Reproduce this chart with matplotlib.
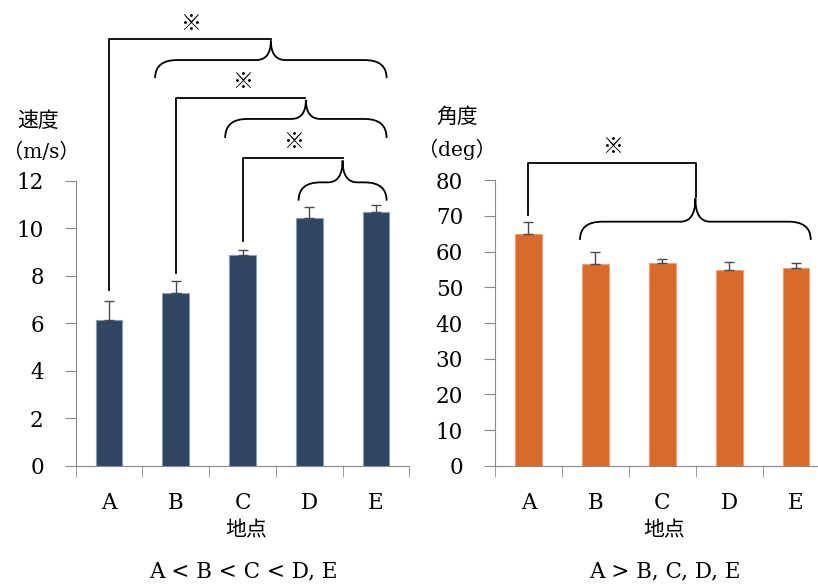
import matplotlib.pyplot as plt
from matplotlib.path import Path
from matplotlib.patches import PathPatch

plt.rcParams['font.family'] = ['DejaVu Serif', 'Noto Sans CJK JP']

sites = ['A', 'B', 'C', 'D', 'E']
speed = [6.15, 7.28, 8.86, 10.42, 10.67]
speed_err = [0.80, 0.50, 0.22, 0.46, 0.30]
angle = [65.0, 56.6, 56.8, 54.9, 55.3]
angle_err = [3.4, 3.3, 1.0, 2.1, 1.4]

# significance brackets: (from, to_x, y_bottom, y_top, brace_x0, brace_x1, brace_y, end_y, tip_y, star_x, star_y)
speed_sig = [
    (0, 2.42, 7.4, 17.95, 0.69, 4.16, 17.08, 16.32, 17.90, 1.22, 18.6),
    (1, 2.93, 8.1, 15.47, 1.74, 4.16, 14.60, 13.80, 15.40, 2.00, 16.17),
    (2, 3.50, 9.47, 12.94, 2.84, 4.16, 11.93, 11.16, 12.85, 2.76, 13.64),
]
angle_sig = [
    (0, 2.50, 70.3, 84.8, 0.77, 4.22, 68.4, 63.3, 74.9, 1.26, 89.4),
]

W, H = 818, 586
fig = plt.figure(figsize=(W / 100, H / 100), dpi=100)
ax1 = fig.add_axes([75.7 / W, 1 - 465.7 / H, 333.6 / W, 285.0 / H])
ax2 = fig.add_axes([495.0 / W, 1 - 465.7 / H, 334.5 / W, 285.4 / H])


def brace(ax, x0, x1, y, yend, ytip, r1, r2):
    xm = (x0 + x1) / 2
    verts = [(x0, yend), (x0, y), (x0 + r1, y),
             (xm - r2, y), (xm, y), (xm, ytip),
             (xm, y), (xm + r2, y),
             (x1 - r1, y), (x1, y), (x1, yend)]
    codes = [Path.MOVETO, Path.CURVE3, Path.CURVE3,
             Path.LINETO, Path.CURVE3, Path.CURVE3,
             Path.CURVE3, Path.CURVE3,
             Path.LINETO, Path.CURVE3, Path.CURVE3]
    ax.add_patch(PathPatch(Path(verts, codes), fill=False, lw=1.3,
                           color='black', clip_on=False))


def draw(ax, vals, errs, color, edge, ymax, ystep, sig, drop):
    x = range(len(sites))
    ax.bar(x, vals, width=0.4, color=color, edgecolor=edge, linewidth=0.8,
           yerr=[[0] * len(errs), errs], capsize=3.5,
           error_kw=dict(ecolor='#4a4a4a', elinewidth=1, capthick=1))
    ax.set_xlim(-0.5, 4.5)
    ax.set_ylim(0, ymax)
    ax.set_yticks(range(0, ymax + 1, ystep))
    ax.set_xticks(list(x))
    ax.set_xticklabels(sites)
    ax.set_xticks([i - 0.5 for i in range(len(sites) + 1)], minor=True)
    ax.tick_params(axis='x', which='major', length=0, pad=19, labelsize=15.5)
    ax.tick_params(axis='x', which='minor', length=8, color='#888888', direction='out')
    ax.tick_params(axis='y', length=8, color='#888888', pad=15, labelsize=15.5)
    for s in ['top', 'right']:
        ax.spines[s].set_visible(False)
    for s in ['left', 'bottom']:
        ax.spines[s].set_color('#888888')
    for (i0, xh, yb, yt, bx0, bx1, by, be, btip, sx, sy) in sig:
        xs = [i0, i0, xh]
        ys = [yb, yt, yt]
        if drop:
            xs.append(xh)
            ys.append(btip + (yt - btip) * 0.03)
        ax.plot(xs, ys, color='black', lw=1.3, clip_on=False)
        brace(ax, bx0, bx1, by, be, btip, 0.33, 0.22)
        ax.text(sx, sy, '※', fontsize=15, ha='center', va='center',
                family='Noto Sans CJK JP', clip_on=False)


draw(ax1, speed, speed_err, '#2F4562', '#8a9ab4', 12, 2, speed_sig, False)
draw(ax2, angle, angle_err, '#D86B2B', '#f0a070', 80, 10, angle_sig, True)


def ftext(px, py, s, size=15, **kw):
    fig.text(px / W, 1 - py / H, s, ha='center', va='center', fontsize=size, **kw)


ftext(38, 121, '速度')
ftext(41, 152, '（m/s）', size=14.5)
ftext(457, 117, '角度')
ftext(457, 149, '（deg）', size=14.5)
ftext(246, 531, '地点')
ftext(664, 531, '地点')
ftext(243, 571, 'A < B < C < D, E', size=15.5)
ftext(665, 571, 'A > B, C, D, E', size=15.5)

fig.savefig('out.png', dpi=100)
